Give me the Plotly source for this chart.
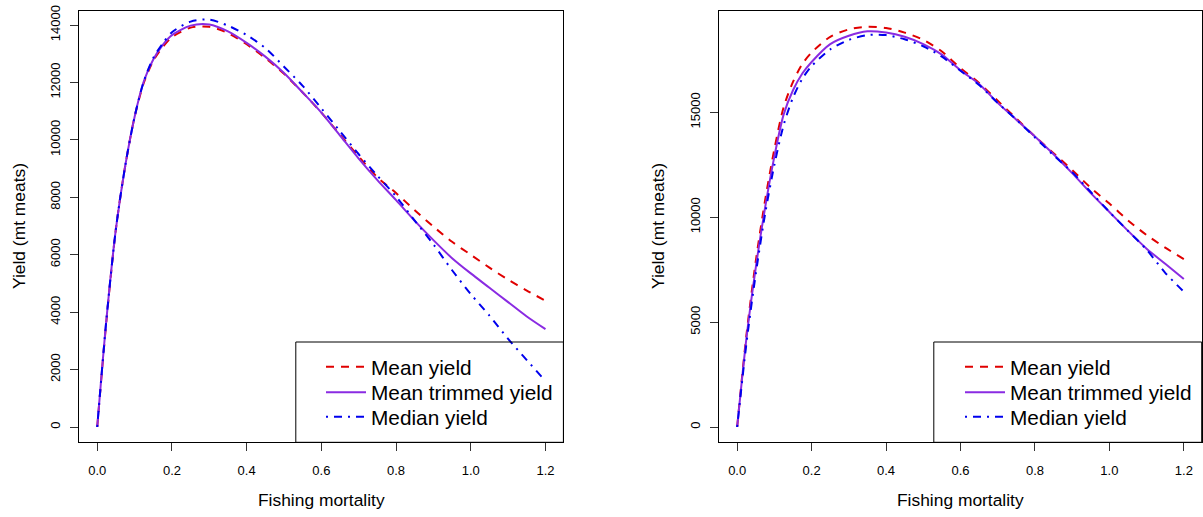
import plotly.graph_objects as go

# ---------------- data ----------------
f_values = [0, 0.025, 0.05, 0.075, 0.1, 0.125, 0.15, 0.175, 0.2, 0.25, 0.3, 0.35, 0.4,
            0.45, 0.5, 0.55, 0.6, 0.65, 0.7, 0.75, 0.8, 0.85, 0.9, 0.95, 1.0, 1.05,
            1.1, 1.15, 1.2]

left_mean = [0, 3750, 6900, 9100, 10800, 12000, 12750, 13230, 13580, 13910, 13940,
             13720, 13330, 12850, 12300, 11650, 10950, 10180, 9420, 8700, 8150, 7550,
             6980, 6450, 6000, 5550, 5130, 4750, 4400]
left_trimmed = [0, 3800, 6900, 9100, 10800, 12050, 12800, 13300, 13650, 13980, 14020,
                13780, 13380, 12900, 12330, 11650, 10950, 10150, 9350, 8600, 7900, 7180,
                6510, 5880, 5350, 4850, 4350, 3850, 3410]
left_median = [0, 3800, 6900, 9100, 10800, 12050, 12850, 13350, 13750, 14120, 14190,
               13980, 13650, 13200, 12550, 11880, 11100, 10300, 9500, 8750, 8030, 7190,
               6360, 5460, 4630, 3880, 3070, 2330, 1600]

right_mean = [0, 4400, 7900, 10800, 13250, 15250, 16450, 17300, 17850, 18600, 18950,
              19080, 19020, 18800, 18450, 17900, 17100, 16400, 15550, 14700, 13850,
              13050, 12250, 11400, 10650, 9850, 9150, 8550, 8000]
right_trimmed = [0, 4250, 7600, 10450, 12900, 14900, 16050, 16850, 17400, 18250, 18650,
                 18860, 18800, 18600, 18250, 17750, 17000, 16350, 15450, 14650, 13850,
                 13000, 12100, 11150, 10250, 9350, 8500, 7780, 7050]
right_median = [0, 4000, 7300, 10150, 12500, 14400, 15700, 16600, 17200, 18000, 18450,
                18680, 18680, 18480, 18150, 17650, 16980, 16300, 15450, 14650, 13800,
                12950, 12150, 11200, 10250, 9350, 8450, 7350, 6450]

x_ticks = [0.0, 0.2, 0.4, 0.6, 0.8, 1.0, 1.2]
x_tick_text = ["0.0", "0.2", "0.4", "0.6", "0.8", "1.0", "1.2"]
left_y_ticks = [0, 2000, 4000, 6000, 8000, 10000, 12000, 14000]
left_y_text = ["0", "2000", "4000", "6000", "8000", "10000", "12000", "14000"]
right_y_ticks = [0, 5000, 10000, 15000]
right_y_text = ["0", "5000", "10000", "15000"]

series_names = ["Mean yield", "Mean trimmed yield", "Median yield"]

# ---------------- styling ----------------
W, H = 1203, 517
FONT = "Liberation Sans, Arial, Helvetica, sans-serif"
RED = "#e00000"
PURPLE = "#8a2be2"
BLUE = "#0000ee"
styles = [
    dict(color=RED, width=2, dash="8px,7px"),
    dict(color=PURPLE, width=2, dash="solid"),
    dict(color=BLUE, width=2, dash="2px,6px,8px,6px"),
]

def px_x(p):
    return p / W

def px_y(p):
    return 1 - p / H

fig = go.Figure()

legend_rows = [367.3, 392.7, 417.3]
panels = [
    ("x", "y", 321, [left_mean, left_trimmed, left_median]),
    ("x2", "y2", 960, [right_mean, right_trimmed, right_median]),
]
legend_layouts = {}
k = 0
for xa, ya, lx, data in panels:
    for name, vals, st, ry in zip(series_names, data, styles, legend_rows):
        k += 1
        key = "legend" if k == 1 else f"legend{k}"
        fig.add_trace(go.Scatter(
            x=f_values, y=vals, mode="lines", name=name,
            line=dict(shape="spline", smoothing=0.8, **st),
            xaxis=xa, yaxis=ya, legend=key, hoverinfo="skip",
        ))
        legend_layouts[key] = dict(
            x=px_x(lx), y=px_y(ry), xanchor="left", yanchor="middle",
            bgcolor="rgba(0,0,0,0)", borderwidth=0, itemwidth=40,
            font=dict(family=FONT, size=20.8, color="black"),
        )

top, bottom = 10.7, 442.3
ydom = [px_y(bottom), px_y(top)]

axis_common = dict(
    showline=True, mirror=True, linecolor="black", linewidth=1,
    ticks="outside", ticklen=8, tickcolor="#333", tickwidth=1,
    showgrid=False, zeroline=False, automargin=False,
    tickfont=dict(family=FONT, size=13, color="black"),
)

fig.update_layout(
    width=W, height=H, autosize=False,
    margin=dict(l=0, r=0, t=0, b=0),
    paper_bgcolor="white", plot_bgcolor="white",
    font=dict(family=FONT, color="black"),
    xaxis=dict(domain=[px_x(79.3), px_x(563.4)], range=[-0.048, 1.248],
               tickvals=x_ticks, ticktext=x_tick_text, anchor="y",
               ticklabelstandoff=8, **axis_common),
    yaxis=dict(domain=ydom, range=[-533, 14500], tickvals=left_y_ticks,
               ticktext=left_y_text, tickangle=-90, anchor="x",
               ticklabelstandoff=5, **axis_common),
    xaxis2=dict(domain=[px_x(719.3), px_x(1201.7)], range=[-0.048, 1.248],
                tickvals=x_ticks, ticktext=x_tick_text, anchor="y2",
                ticklabelstandoff=8, **axis_common),
    yaxis2=dict(domain=ydom, range=[-729, 19843], tickvals=right_y_ticks,
                ticktext=right_y_text, tickangle=-90, anchor="x2",
                ticklabelstandoff=5, **axis_common),
    showlegend=True,
    **legend_layouts,
)

# legend frames (R-style boxes)
for x0, x1 in [(295.8, 563.4), (933.8, 1201.7)]:
    fig.add_shape(type="rect", xref="paper", yref="paper",
                  x0=px_x(x0), x1=px_x(x1), y0=px_y(442.3), y1=px_y(342),
                  line=dict(color="black", width=1), fillcolor="rgba(0,0,0,0)")

# axis titles
for cx in [19.5, 658.5]:
    fig.add_annotation(text="Yield (mt meats)", xref="paper", yref="paper",
                       x=px_x(cx), y=px_y(226.5), showarrow=False, textangle=-90,
                       xanchor="center", yanchor="middle",
                       font=dict(family=FONT, size=17.4, color="black"))
for cx in [321.4, 960.5]:
    fig.add_annotation(text="Fishing mortality", xref="paper", yref="paper",
                       x=px_x(cx), y=px_y(500), showarrow=False,
                       xanchor="center", yanchor="middle",
                       font=dict(family=FONT, size=17.4, color="black"))

fig.write_html("out.html",
               config={"displayModeBar": False},
               post_script="document.body.style.margin='0';"
                           "document.body.style.overflow='hidden';")
